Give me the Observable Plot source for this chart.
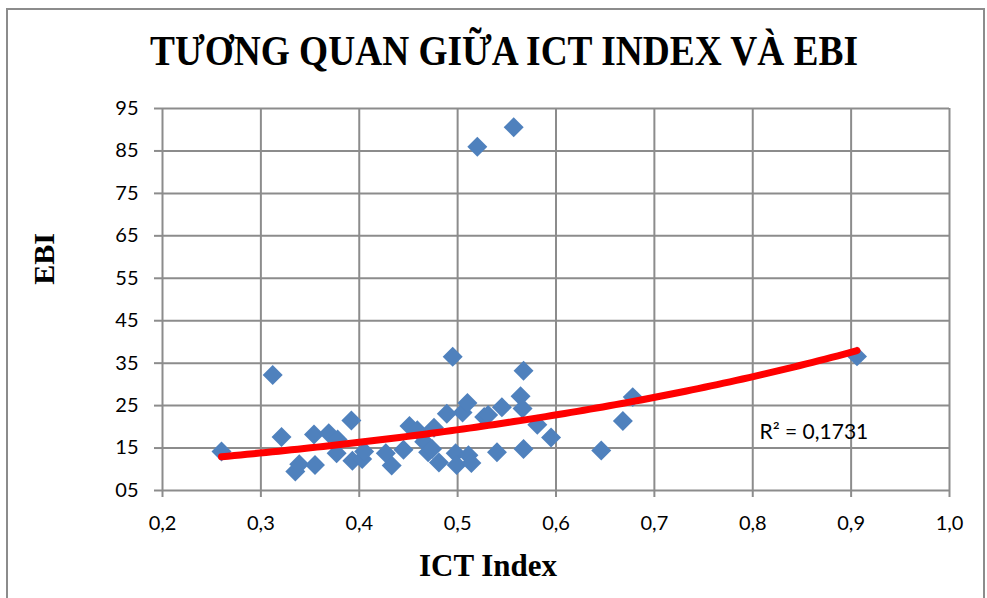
<!DOCTYPE html>
<html><head><meta charset="utf-8">
<script src="https://cdn.jsdelivr.net/npm/d3@7"></script>
<script src="https://cdn.jsdelivr.net/npm/@observablehq/plot@0.6"></script>
<style>
body{margin:0;background:#fff;}
#wrap{position:relative;width:987px;height:598px;overflow:hidden;background:#fff;}
#frame{position:absolute;left:6px;top:8px;width:979px;height:600px;border:2px solid #8c8c8c;box-sizing:border-box;pointer-events:none;}
#title{position:relative;height:95px;}
#title span{position:absolute;left:504px;top:50px;font-family:"Liberation Serif","Times New Roman",serif;font-weight:bold;font-size:43px;white-space:nowrap;line-height:1;color:#000;}
#chart{position:relative;height:503px;}
#ylab{position:absolute;left:44px;top:164px;transform:translate(-50%,-50%) rotate(-90deg);font-family:"Liberation Serif",serif;font-weight:bold;font-size:30px;color:#000;white-space:nowrap;}
#xlab{position:absolute;left:488px;top:471px;transform:translate(-50%,-50%);font-family:"Liberation Serif",serif;font-weight:bold;font-size:31px;color:#000;white-space:nowrap;}
</style></head>
<body>
<div id="wrap">
  <div id="title"><span id="tt">TƯƠNG QUAN GIỮA ICT INDEX VÀ EBI</span></div>
  <div id="chart"><div id="ylab">EBI</div><div id="xlab">ICT Index</div></div>
  <div id="frame"></div>
</div>
<script>
// ICT Index values
const ict = [0.260,0.312,0.321,0.335,0.339,0.354,0.355,0.369,0.378,0.377,
             0.392,0.393,0.403,0.405,0.427,0.433,0.445,0.451,0.459,0.466,
             0.470,0.476,0.474,0.481,0.489,0.495,0.498,0.499,0.505,0.510,
             0.511,0.514,0.520,0.527,0.531,0.540,0.545,0.557,0.564,0.566,
             0.567,0.567,0.581,0.595,0.646,0.668,0.678,0.906];
// EBI values
const ebi = [14.2,32.2,17.6,9.5,11.2,18.2,11.0,18.5,17.0,13.8,
             21.5,12.0,12.4,14.2,13.8,10.9,14.6,20.2,19.2,16.5,
             14.0,19.8,14.8,11.6,23.1,36.5,13.8,11.0,23.4,25.6,
             13.3,11.5,86.0,22.3,22.8,14.0,24.6,90.6,27.2,24.3,
             33.2,14.8,20.5,17.5,14.4,21.4,27.0,36.6];
const xTicks = [0.2,0.3,0.4,0.5,0.6,0.7,0.8,0.9,1.0];
const yTicks = [5,15,25,35,45,55,65,75,85,95];
const r2Label = "R² = 0,1731";

const points = ict.map((x,i)=>({ict:x, ebi:ebi[i]}));

// Exponential trendline (least squares on ln y), as Excel does
const mx = d3.mean(points,d=>d.ict), my = d3.mean(points,d=>Math.log(d.ebi));
const b = d3.sum(points,d=>(d.ict-mx)*(Math.log(d.ebi)-my)) / d3.sum(points,d=>(d.ict-mx)**2);
const a = Math.exp(my - b*mx);
const [x0,x1] = d3.extent(ict);
const trend = d3.range(0,101).map(i=>{const x = x0+(x1-x0)*i/100; return {ict:x, ebi:a*Math.exp(b*x)};});

const grey = "#8c8c8c";
const chart = Plot.plot({
  width: 987, height: 503,
  marginLeft: 162, marginRight: 38, marginTop: 13, marginBottom: 108,
  style: {fontFamily: "Lato, 'Open Sans', sans-serif", fontSize: "20px", color: "#000", background: "transparent"},
  x: {domain: [0.2, 1.0]},
  y: {domain: [5, 95]},
  marks: [
    Plot.gridX({ticks: xTicks, stroke: grey, strokeOpacity: 1, strokeWidth: 2}),
    Plot.gridY({ticks: yTicks, stroke: grey, strokeOpacity: 1, strokeWidth: 2}),
    Plot.axisX({ticks: xTicks, tickFormat: d => d.toFixed(1).replace(".", ","), label: null, tickSize: 7, tickPadding: 18, stroke: grey, strokeWidth: 2, fill: "#000"}),
    Plot.axisY({ticks: yTicks, tickFormat: d => String(d).padStart(2, "0"), label: null, tickSize: 8, tickPadding: 16, stroke: grey, strokeWidth: 2, fill: "#000"}),
    Plot.dot(points, {x: "ict", y: "ebi", symbol: "diamond2", r: 9, fill: "#4f81bd", stroke: null}),
    Plot.line(trend, {x: "ict", y: "ebi", stroke: "#ff0000", strokeWidth: 7, strokeLinecap: "round"}),
    Plot.text([r2Label], {frameAnchor: "bottom-right", textAnchor: "start", lineAnchor: "middle", dx: -190, dy: -58, fontSize: 21, fill: "#000"})
  ]
});
document.getElementById("chart").prepend(chart);

// compress title to the reference width
const tt = document.getElementById("tt");
const w = tt.getBoundingClientRect().width;
const s = 708 / w;
tt.style.transform = `translate(-50%,-50%) scaleX(${s})`;
</script>
</body></html>
